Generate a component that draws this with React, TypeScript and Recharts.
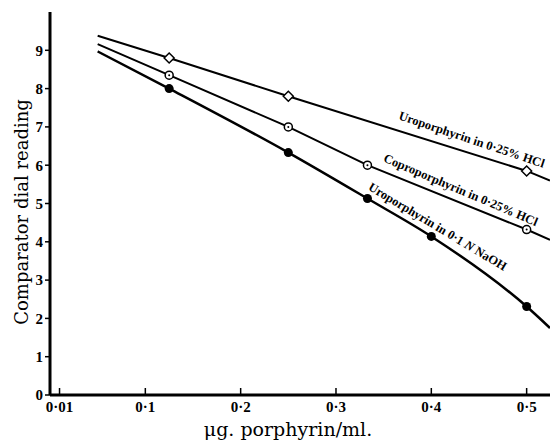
import React from 'react';
import { ComposedChart, Line, Scatter, XAxis, YAxis, ReferenceDot, Label } from 'recharts';

const xTicks = [0.01, 0.1, 0.2, 0.3, 0.4, 0.5];
const xTickLabels = ['0·01', '0·1', '0·2', '0·3', '0·4', '0·5'];
const yTicks = [0, 1, 2, 3, 4, 5, 6, 7, 8, 9];

// drawn lines (extrapolated ends included)
const uroHclX = [0.05, 0.125, 0.25, 0.5, 0.5245];
const uroHclY = [9.38, 8.8, 7.8, 5.85, 5.6];
const coproX = [0.05, 0.125, 0.25, 0.333, 0.5, 0.5245];
const coproY = [9.16, 8.35, 7.0, 6.0, 4.32, 4.05];
const naohX = [0.05, 0.125, 0.25, 0.333, 0.4, 0.5, 0.5245];
const naohY = [8.97, 8.0, 6.33, 5.13, 4.14, 2.31, 1.75];

// measured points
const uroHclPtX = [0.125, 0.25, 0.5];
const uroHclPtY = [8.8, 7.8, 5.85];
const coproPtX = [0.125, 0.25, 0.333, 0.5];
const coproPtY = [8.35, 7.0, 6.0, 4.32];
const naohPtX = [0.125, 0.25, 0.333, 0.4, 0.5];
const naohPtY = [8.0, 6.33, 5.13, 4.14, 2.31];

const zip = (xs: number[], ys: number[]) => xs.map((x, i) => ({ x, y: ys[i] }));

const SERIF = '"Liberation Serif", "DejaVu Serif", serif';
const WIDE_SERIF = '"DejaVu Serif", "Liberation Serif", serif';

const Diamond = (p: any) => (
  <path d={`M${p.cx},${p.cy - 5} L${p.cx + 5},${p.cy} L${p.cx},${p.cy + 5} L${p.cx - 5},${p.cy} Z`} fill="#fff" stroke="#000" strokeWidth={1.5} />
);
const OpenDot = (p: any) => (
  <g>
    <circle cx={p.cx} cy={p.cy} r={4} fill="#fff" stroke="#000" strokeWidth={1.5} />
    <circle cx={p.cx} cy={p.cy} r={1} fill="#000" />
  </g>
);
const FilledDot = (p: any) => <circle cx={p.cx} cy={p.cy} r={4.5} fill="#000" />;

const XTick = (p: any) => {
  const i = xTicks.indexOf(p.payload.value);
  return (
    <g>
      <line x1={p.x} x2={p.x} y1={p.y - 1} y2={p.y - 7} stroke="#000" strokeWidth={1.5} />
      <text x={p.x} y={p.y + 17} textAnchor="middle" fontSize={15} fontWeight="bold" fontFamily={SERIF} fill="#000">{xTickLabels[i]}</text>
    </g>
  );
};

const rotatedText = (text: React.ReactNode, angle: number) => (p: any) => (
  <text x={p.cx} y={p.cy} transform={`rotate(${angle} ${p.cx} ${p.cy})`} fontSize={12.5} fontWeight="bold" fontFamily={SERIF} fill="#000">
    {text}
  </text>
);

export default function App() {
  return (
    <div style={{ position: 'absolute', left: 0, top: 0, width: 550, height: 443, background: '#fff' }}>
      <ComposedChart width={550} height={443} margin={{ top: 12, right: 0, bottom: 18, left: 0 }}>
        <XAxis
          type="number"
          dataKey="x"
          domain={[0, 0.5245]}
          ticks={xTicks}
          tick={<XTick />}
          tickLine={false}
          tickSize={0}
          tickMargin={0}
          axisLine={{ stroke: '#000', strokeWidth: 3 }}
          height={30}
          interval={0}
        >
          <Label
            content={() => (
              <text x={288} y={436} textAnchor="middle" fontSize={19} fontFamily={WIDE_SERIF} fill="#000">μg. porphyrin/ml.</text>
            )}
          />
        </XAxis>
        <YAxis
          type="number"
          domain={[0, 10]}
          ticks={yTicks}
          width={50}
          tick={{ fill: '#000', fontSize: 15, fontWeight: 'bold', fontFamily: SERIF }}
          tickLine={{ stroke: '#000', strokeWidth: 1.5 }}
          tickSize={5}
          axisLine={{ stroke: '#000', strokeWidth: 3 }}
          interval={0}
        >
          <Label
            content={() => (
              <text transform="translate(28,212) rotate(-90)" textAnchor="middle" fontSize={18} fontFamily={WIDE_SERIF} fill="#000">Comparator dial reading</text>
            )}
          />
        </YAxis>

        <Line data={zip(uroHclX, uroHclY)} dataKey="y" type="linear" stroke="#000" strokeWidth={2} dot={false} isAnimationActive={false} />
        <Line data={zip(coproX, coproY)} dataKey="y" type="linear" stroke="#000" strokeWidth={2} dot={false} isAnimationActive={false} />
        <Line data={zip(naohX, naohY)} dataKey="y" type="monotoneX" stroke="#000" strokeWidth={2.5} dot={false} isAnimationActive={false} />

        <Scatter data={zip(uroHclPtX, uroHclPtY)} dataKey="y" shape={Diamond} isAnimationActive={false} />
        <Scatter data={zip(coproPtX, coproPtY)} dataKey="y" shape={OpenDot} isAnimationActive={false} />
        <Scatter data={zip(naohPtX, naohPtY)} dataKey="y" shape={FilledDot} isAnimationActive={false} />

        <ReferenceDot x={0.365} y={7.2} r={0} shape={rotatedText('Uroporphyrin in 0·25% HCl', 18.5)} />
        <ReferenceDot x={0.349} y={6.1} r={0} shape={rotatedText('Coproporphyrin in 0·25% HCl', 23)} />
        <ReferenceDot
          x={0.333}
          y={5.37}
          r={0}
          shape={rotatedText(<>Uroporphyrin in 0·1 <tspan fontStyle="italic">N</tspan> NaOH</>, 31)}
        />
      </ComposedChart>
    </div>
  );
}
